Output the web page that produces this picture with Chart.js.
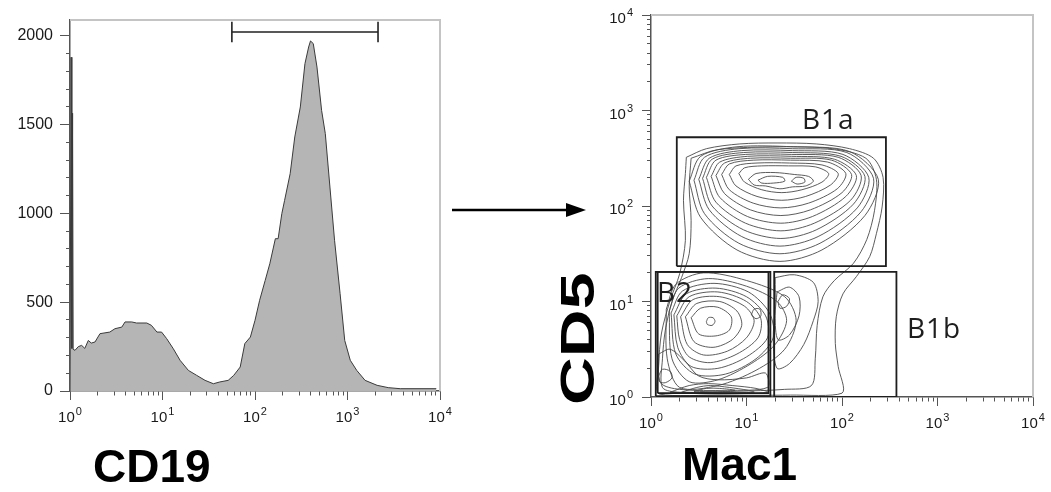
<!DOCTYPE html>
<html><head><meta charset="utf-8">
<script src="https://cdn.jsdelivr.net/npm/chart.js@4.4.1/dist/chart.umd.min.js"></script>
<style>
html,body{margin:0;padding:0;background:#fff;width:1051px;height:492px;overflow:hidden;}
#hist{position:absolute;left:0;top:0;}
#contour{position:absolute;left:540px;top:0;}
#arrow{position:absolute;left:0;top:0;pointer-events:none;}
</style></head><body>
<canvas id="hist" width="470" height="492"></canvas>
<canvas id="contour" width="511" height="492"></canvas>
<svg id="arrow" width="1051" height="492"><line x1="452" y1="210" x2="570" y2="210" stroke="#000" stroke-width="2.5"/><polygon points="586,210 566,203 566,217" fill="#000"/></svg>
<script>
// ---------- DATA (x values are log10 of fluorescence) ----------
const decadeBase = '10';
const decadeExponents = ['0', '1', '2', '3', '4'];
const countTickStep = 100;
const countLabelsEvery = 500;
const countMax = 2000;

// Histogram (CD19)
const histX = [0, 0.012, 0.02, 0.028, 0.034, 0.054, 0.09, 0.126, 0.16, 0.198, 0.23, 0.27, 0.324, 0.43, 0.486, 0.56, 0.595, 0.667, 0.72, 0.83, 0.88, 0.94, 0.99, 1.045, 1.117, 1.19, 1.28, 1.37, 1.46, 1.55, 1.62, 1.71, 1.77, 1.84, 1.89, 1.95, 2.0, 2.05, 2.11, 2.16, 2.2, 2.22, 2.25, 2.29, 2.32, 2.38, 2.43, 2.49, 2.54, 2.58, 2.60, 2.63, 2.67, 2.72, 2.76, 2.81, 2.86, 2.92, 2.97, 3.03, 3.10, 3.19, 3.32, 3.44, 3.57, 3.96];
const histY = [0, 1880, 240, 1565, 235, 229, 250, 257, 240, 285, 270, 276, 323, 332, 351, 360, 389, 389, 383, 383, 370, 332, 332, 295, 238, 173, 116, 88, 60, 41, 51, 60, 88, 135, 267, 304, 398, 511, 623, 717, 811, 858, 858, 999, 1074, 1224, 1431, 1600, 1844, 1938, 1972, 1957, 1825, 1581, 1450, 1149, 849, 548, 285, 173, 116, 60, 32, 19, 13, 13];
const cd19GateRange = [1.75, 3.33];
const cd19GateLevel = 2022;

// Gates on the CD5 / Mac1 plot (log10 units)
const gateB1a = { x: [0.27, 2.46], y: [1.37, 2.72] };
const gateB2 = { x: [0.05, 1.25], y: [0.01, 1.31] };
const gateB2inner = { x: [0.07, 1.23], y: [0.04, 1.31] };
const gateB1b = { x: [1.29, 2.57], y: [0.0, 1.31] };
const gateNames = ['B1a', 'B2', 'B1b'];
const gateNameAnchors = [[1.58, 2.81], [0.063, 0.99], [2.68, 0.62]];

// Contour lines (log10 Mac1, log10 CD5)
const b1aContours = [
 [[.40,2.26],[.52,2.52],[.90,2.62],[1.49,2.62],[2.08,2.57],[2.38,2.28],[2.24,1.90],[1.79,1.54],[1.35,1.42],[.90,1.54],[.52,1.88]],
 [[.45,2.27],[.56,2.51],[.92,2.60],[1.48,2.60],[2.05,2.56],[2.33,2.29],[2.20,1.94],[1.77,1.61],[1.35,1.50],[.92,1.61],[.56,1.92]],
 [[.50,2.28],[.61,2.50],[.95,2.58],[1.48,2.58],[2.01,2.54],[2.28,2.30],[2.16,1.98],[1.75,1.68],[1.35,1.58],[.95,1.68],[.61,1.96]],
 [[.54,2.29],[.64,2.49],[.97,2.56],[1.48,2.56],[1.99,2.52],[2.24,2.31],[2.12,2.02],[1.73,1.75],[1.36,1.66],[.97,1.75],[.64,2.00]],
 [[.58,2.30],[.68,2.48],[.99,2.54],[1.47,2.54],[1.96,2.51],[2.20,2.32],[2.09,2.06],[1.71,1.82],[1.36,1.74],[.99,1.82],[.68,2.04]],
 [[.63,2.31],[.72,2.46],[1.01,2.52],[1.47,2.52],[1.92,2.49],[2.15,2.32],[2.04,2.10],[1.69,1.89],[1.36,1.82],[1.01,1.89],[.72,2.09]],
 [[.68,2.32],[.77,2.45],[1.04,2.50],[1.46,2.50],[1.89,2.48],[2.10,2.33],[2.00,2.14],[1.67,1.96],[1.36,1.90],[1.04,1.96],[.77,2.13]],
 [[.74,2.33],[.82,2.44],[1.07,2.48],[1.46,2.48],[1.85,2.46],[2.04,2.34],[1.95,2.18],[1.65,2.03],[1.36,1.98],[1.07,2.03],[.82,2.17]],
 [[.82,2.33],[.89,2.42],[1.11,2.45],[1.45,2.45],[1.79,2.43],[1.96,2.34],[1.88,2.22],[1.62,2.10],[1.37,2.06],[1.11,2.10],[.89,2.21]],
 [[.92,2.34],[.98,2.40],[1.16,2.42],[1.44,2.42],[1.72,2.41],[1.86,2.34],[1.79,2.25],[1.58,2.17],[1.37,2.14],[1.16,2.17],[.98,2.25]],
 [[1.02,2.28],[1.10,2.34],[1.30,2.35],[1.50,2.33],[1.65,2.31],[1.70,2.26],[1.62,2.21],[1.48,2.20],[1.35,2.18],[1.20,2.21],[1.08,2.22]],
 [[1.12,2.27],[1.22,2.31],[1.38,2.30],[1.40,2.26],[1.28,2.24],[1.16,2.24]],
 [[1.47,2.26],[1.52,2.30],[1.60,2.29],[1.61,2.25],[1.53,2.23]]
];
const b2Contours = [
 [[.58,.79],[.60,.83],[.65,.83],[.67,.79],[.64,.75],[.59,.76]],
 [[.42,.83],[.52,.93],[.70,.94],[.84,.84],[.82,.70],[.68,.64],[.50,.66]],
 [[.36,.84],[.48,.98],[.72,1.00],[.90,.90],[.95,.75],[.85,.60],[.65,.52],[.45,.58]],
 [[.31,.84],[.44,1.02],[.72,1.05],[.98,.95],[1.08,.80],[1.00,.62],[.80,.48],[.55,.44],[.38,.55]],
 [[.27,.85],[.40,1.05],[.70,1.10],[1.00,1.00],[1.15,.82],[1.12,.62],[.90,.45],[.62,.36],[.40,.42],[.30,.60]],
 [[.24,.86],[.37,1.08],[.68,1.14],[1.00,1.05],[1.20,.85],[1.22,.62],[1.00,.42],[.70,.30],[.42,.32],[.28,.52]],
 [[.21,.88],[.33,1.11],[.66,1.19],[1.02,1.10],[1.24,.88],[1.28,.62],[1.10,.40],[.78,.24],[.46,.24],[.26,.45]],
 [[.19,.90],[.29,1.14],[.60,1.24],[1.00,1.16],[1.32,1.00],[1.42,.80],[1.30,.55],[1.05,.35],[.70,.18],[.40,.16],[.22,.40]],
 [[.16,.92],[.26,1.18],[.55,1.30],[1.00,1.22],[1.40,1.05],[1.52,.80],[1.40,.50],[1.10,.28],[.70,.12],[.30,.10],[.17,.40]],
 [[1.05,.86],[1.08,.92],[1.14,.92],[1.15,.85],[1.10,.82]],
 [[.08,.22],[.12,.29],[.20,.27],[.22,.20],[.15,.15],[.09,.16]]
];
const envelopeContours = [
 [[.37,2.51],[.58,2.60],[.93,2.65],[1.32,2.66],[1.73,2.65],[2.08,2.60],[2.33,2.50],[2.43,2.30],[2.42,1.99],[2.36,1.71],[2.29,1.47],[2.15,1.26],[2.01,1.08],[1.94,.84],[1.93,.56],[1.96,.32],[2.00,.04],[1.46,.02],[.76,.02],[.09,.03],[.08,.32],[.11,.67],[.20,1.01],[.30,1.29],[.36,1.64],[.34,2.06],[.36,2.34]],
 [[.42,2.50],[.70,2.59],[1.32,2.62],[1.90,2.60],[2.25,2.50],[2.36,2.28],[2.34,1.95],[2.26,1.65],[2.12,1.40],[1.92,1.22],[1.80,1.05],[1.74,.75],[1.72,.40],[1.68,.12],[1.40,.08],[.90,.06],[.30,.05],[.12,.10],[.12,.40],[.15,.70],[.22,1.00],[.32,1.25],[.40,1.50],[.42,1.85],[.40,2.20]]
];
const floorContours = [
 [[.20,.05],[.40,.12],[.60,.14],[.85,.12],[1.10,.09],[1.22,.05],[.90,.035],[.50,.035]],
 [[.32,.05],[.48,.10],[.62,.12],[.82,.10],[1.02,.07],[1.08,.05],[.70,.045]],
 [[.45,.06],[.58,.09],[.72,.09],[.88,.07],[.70,.055]],
 [[.08,.45],[.20,.50],[.35,.38],[.50,.22],[.70,.18],[1.00,.20],[1.20,.25],[1.22,.10],[.80,.07],[.30,.08],[.10,.15]]
];
const tailContours = [
 [[1.30,1.25],[1.50,1.28],[1.70,1.20],[1.75,1.00],[1.70,.80],[1.60,.55],[1.45,.35],[1.32,.30],[1.28,.60],[1.30,.95]],
 [[1.32,1.10],[1.45,1.15],[1.55,1.05],[1.55,.85],[1.45,.65],[1.33,.60],[1.30,.85]],
 [[1.33,1.00],[1.38,1.07],[1.45,1.03],[1.42,.95],[1.35,.93]]
];

// ---------- helpers ----------
const FONT = '"Liberation Sans", Arial, sans-serif';
const logMantissas = [2,3,4,5,6,7,8,9];
function logTicks() {
  const t = [];
  for (let d = 0; d < 4; d++) { t.push({value: d}); logMantissas.forEach(m => t.push({value: d + Math.log10(m)})); }
  t.push({value: 4});
  return t;
}
function countTicks() {
  const t = [];
  for (let v = 0; v <= countMax; v += countTickStep) t.push({value: v});
  return t;
}
const isDecade = c => c.tick && Number.isInteger(c.tick.value);
function decadeAxis(pos, size, isX) {
  return {
    type: 'linear', position: pos, min: 0, max: 4,
    afterBuildTicks: s => { s.ticks = logTicks(); },
    afterFit: s => { if (isX) s.height = size; else s.width = size; s.paddingLeft = 0; s.paddingRight = 0; s.paddingTop = 0; s.paddingBottom = 0; },
    ticks: { autoSkip: false, maxRotation: 0, padding: 8, callback: () => '' },
    grid: { drawOnChartArea: false, tickLength: 9, tickColor: '#555', tickWidth: 1,
      tickBorderDash: c => isDecade(c) ? [] : (isX ? [4, 60] : [0, 5, 4, 60]) },
    border: { color: '#555', width: 1.5 }
  };
}
// draws "10" with a raised exponent at every decade tick of a scale
function drawDecadeLabels(chart, scale, isX) {
  const ctx = chart.ctx;
  ctx.save(); ctx.fillStyle = '#1a1a1a'; ctx.textBaseline = 'alphabetic'; ctx.textAlign = 'left';
  scale.ticks.forEach(t => {
    if (!Number.isInteger(t.value)) return;
    const exp = decadeExponents[t.value];
    ctx.font = '15px ' + FONT; const w1 = ctx.measureText(decadeBase).width;
    ctx.font = '11px ' + FONT; const w2 = ctx.measureText(exp).width;
    const p = scale.getPixelForValue(t.value);
    let x0, base;
    if (isX) { x0 = p - (w1 + w2 + 1) / 2; base = scale.top + 31; }
    else { x0 = scale.right - 18 - (w1 + w2 + 1); base = p + 8; }
    ctx.font = '15px ' + FONT; ctx.fillText(decadeBase, x0, base);
    ctx.font = '11px ' + FONT; ctx.fillText(exp, x0 + w1 + 1, base - 7);
  });
  ctx.restore();
}
const frame = {
  id: 'frame',
  afterDatasetsDraw(chart) {
    const a = chart.chartArea, ctx = chart.ctx;
    ctx.save(); ctx.strokeStyle = '#c4c4c4'; ctx.lineWidth = 2;
    ctx.beginPath(); ctx.moveTo(a.left, a.top); ctx.lineTo(a.right, a.top); ctx.lineTo(a.right, a.bottom); ctx.stroke();
    ctx.restore();
  }
};

// ---------- Histogram ----------
new Chart(document.getElementById('hist'), {
  type: 'line',
  data: { datasets: [
    { data: [[cd19GateRange[0], cd19GateLevel + 58], [cd19GateRange[0], cd19GateLevel - 58], [cd19GateRange[0], cd19GateLevel], [cd19GateRange[1], cd19GateLevel], [cd19GateRange[1], cd19GateLevel + 58], [cd19GateRange[1], cd19GateLevel - 58]].map(p => ({x: p[0], y: p[1]})),
      borderColor: '#222', borderWidth: 1.6, pointRadius: 0, fill: false, tension: 0, order: 0 },
    { data: histX.map((x, i) => ({x, y: histY[i]})), borderColor: '#3a3a3a', borderWidth: 1,
      backgroundColor: '#b5b5b5', fill: 'origin', pointRadius: 0, tension: 0, order: 1 }
  ]},
  options: {
    responsive: false, animation: false, events: [],
    layout: { padding: { left: 0, top: 20, right: 30, bottom: 0 } },
    plugins: { legend: { display: false }, tooltip: { enabled: false } },
    scales: {
      x: decadeAxis('bottom', 101, true),
      y: { type: 'linear', min: 0, max: 2090,
        afterBuildTicks: s => { s.ticks = countTicks(); },
        afterFit: s => { s.width = 70; s.paddingTop = 0; s.paddingBottom = 0; },
        ticks: { autoSkip: false, padding: 7, color: '#1a1a1a', font: {family: FONT, size: 16},
          callback: v => v % countLabelsEvery === 0 ? String(v) : '' },
        grid: { drawOnChartArea: false, tickLength: 10, tickColor: '#555', tickWidth: 1,
          tickBorderDash: c => (c.tick && c.tick.value % countLabelsEvery === 0) ? [] : [0, 6, 4, 60] },
        border: { color: '#555', width: 1.5 } }
    }
  },
  plugins: [frame, {
    id: 'histText',
    afterDraw(chart) {
      drawDecadeLabels(chart, chart.scales.x, true);
      const ctx = chart.ctx;
      ctx.save(); ctx.fillStyle = '#000'; ctx.font = 'bold 46px ' + FONT; ctx.textBaseline = 'alphabetic';
      ctx.fillText('CD19', chart.chartArea.left + 23, 482);
      ctx.restore();
    }
  }]
});

// ---------- Contour plot ----------
function rect(g) { return [[g.x[0], g.y[0]], [g.x[1], g.y[0]], [g.x[1], g.y[1]], [g.x[0], g.y[1]], [g.x[0], g.y[0]]]; }
const toXY = pts => pts.map(p => ({x: p[0], y: p[1]}));
const gateSets = [gateB1a, gateB2, gateB2inner, gateB1b].map(g => ({
  data: toXY(rect(g)), borderColor: '#1e1e1e', borderWidth: 1.8, pointRadius: 0, fill: false, tension: 0, order: 0
}));
const loops = [...b1aContours, ...b2Contours, ...envelopeContours, ...floorContours, ...tailContours];
const contourSets = loops.map(l => ({
  data: toXY(l.concat([l[0]])), borderColor: '#4a4a4a', borderWidth: 0.9, pointRadius: 0, fill: false, tension: 0.3, order: 1
}));

new Chart(document.getElementById('contour'), {
  type: 'line',
  data: { datasets: [...gateSets, ...contourSets] },
  options: {
    responsive: false, animation: false, events: [],
    layout: { padding: { left: 0, top: 15, right: 18, bottom: 0 } },
    plugins: { legend: { display: false }, tooltip: { enabled: false } },
    scales: { x: decadeAxis('bottom', 95, true), y: decadeAxis('left', 111, false) }
  },
  plugins: [frame, {
    id: 'contourText',
    afterDraw(chart) {
      drawDecadeLabels(chart, chart.scales.x, true);
      drawDecadeLabels(chart, chart.scales.y, false);
      const ctx = chart.ctx, sx = chart.scales.x, sy = chart.scales.y;
      ctx.save();
      ctx.fillStyle = '#1e1e1e'; ctx.font = '28px "Open Sans", "Noto Sans", sans-serif'; ctx.textBaseline = 'alphabetic';
      try { ctx.letterSpacing = '1px'; } catch (e) {}
      gateNames.forEach((n, i) => ctx.fillText(n, sx.getPixelForValue(gateNameAnchors[i][0]), sy.getPixelForValue(gateNameAnchors[i][1])));
      try { ctx.letterSpacing = '0px'; } catch (e) {}
      ctx.fillStyle = '#000'; ctx.font = 'bold 46px ' + FONT;
      ctx.fillText('Mac1', chart.chartArea.left + 31, 480);
      ctx.translate(54, 405); ctx.rotate(-Math.PI / 2); ctx.scale(1.38, 1);
      ctx.font = 'bold 48px ' + FONT;
      ctx.fillText('CD5', 0, 0);
      ctx.restore();
    }
  }]
});
</script>
</body></html>
